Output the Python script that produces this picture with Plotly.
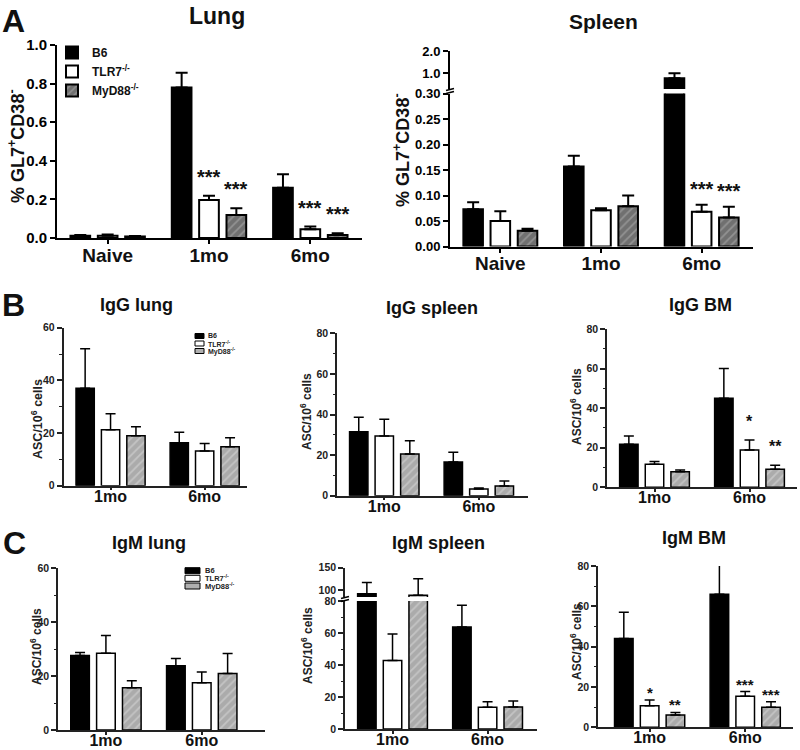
import plotly.graph_objects as go

W, H = 800, 750
FONT = "Liberation Sans, Arial, Helvetica, sans-serif"


def px(x):
    return x / W


def py(y):
    return 1 - y / H


series_names = ["B6", "TLR7<sup>-/-</sup>", "MyD88<sup>-/-</sup>"]

# ---------------- Panel A data ----------------
a_groups = ["Naive", "1mo", "6mo"]

lung_b6 = [0.012, 0.78, 0.26]
lung_b6_err = [0.004, 0.076, 0.07]
lung_tlr7 = [0.012, 0.197, 0.045]
lung_tlr7_err = [0.006, 0.022, 0.014]
lung_myd88 = [0.008, 0.119, 0.016]
lung_myd88_err = [0.002, 0.035, 0.008]
lung_stars_tlr7 = ["", "***", "***"]
lung_stars_myd88 = ["", "***", "***"]

spleen_b6 = [0.073, 0.157, 0.78]
spleen_b6_err = [0.014, 0.021, 0.22]
spleen_tlr7 = [0.05, 0.071, 0.068]
spleen_tlr7_err = [0.019, 0.004, 0.014]
spleen_myd88 = [0.031, 0.079, 0.057]
spleen_myd88_err = [0.004, 0.021, 0.021]
spleen_stars_tlr7 = ["", "", "***"]
spleen_stars_myd88 = ["", "", "***"]

lung_yticks = [0, 0.2, 0.4, 0.6, 0.8, 1.0]
spleen_low_yticks = [0, 0.05, 0.10, 0.15, 0.20, 0.25, 0.30]
spleen_high_yticks = [1.0, 2.0]

# ---------------- Panels B / C data ----------------
bc_groups = ["1mo", "6mo"]

igg_lung_b6 = [37.0, 16.3]
igg_lung_b6_err = [15.0, 4.0]
igg_lung_tlr7 = [21.2, 13.2]
igg_lung_tlr7_err = [6.1, 2.8]
igg_lung_myd88 = [19.0, 14.8]
igg_lung_myd88_err = [3.4, 3.4]

igg_spleen_b6 = [31.5, 16.6]
igg_spleen_b6_err = [7.1, 4.8]
igg_spleen_tlr7 = [29.4, 3.3]
igg_spleen_tlr7_err = [8.2, 0.5]
igg_spleen_myd88 = [20.5, 4.8]
igg_spleen_myd88_err = [6.6, 2.5]

igg_bm_b6 = [21.7, 45.0]
igg_bm_b6_err = [4.2, 15.1]
igg_bm_tlr7 = [11.6, 18.8]
igg_bm_tlr7_err = [1.5, 5.1]
igg_bm_myd88 = [7.9, 9.1]
igg_bm_myd88_err = [0.8, 2.0]
igg_bm_stars_tlr7 = ["", "*"]
igg_bm_stars_myd88 = ["", "**"]

igm_lung_b6 = [27.6, 23.8]
igm_lung_b6_err = [1.2, 2.7]
igm_lung_tlr7 = [28.5, 17.5]
igm_lung_tlr7_err = [6.6, 4.0]
igm_lung_myd88 = [15.7, 21.0]
igm_lung_myd88_err = [2.6, 7.4]

igm_spleen_b6 = [92.0, 63.8]
igm_spleen_b6_err = [25.0, 13.5]
igm_spleen_tlr7 = [42.8, 13.6]
igm_spleen_tlr7_err = [16.6, 3.5]
igm_spleen_myd88 = [89.0, 13.8]
igm_spleen_myd88_err = [36.0, 3.7]

igm_bm_b6 = [44.1, 66.0]
igm_bm_b6_err = [12.9, 14.8]
igm_bm_tlr7 = [10.7, 15.4]
igm_bm_tlr7_err = [2.9, 2.3]
igm_bm_myd88 = [6.1, 9.9]
igm_bm_myd88_err = [1.3, 2.8]
igm_bm_stars_tlr7 = ["*", "***"]
igm_bm_stars_myd88 = ["**", "***"]

ticks_60 = [0, 20, 40, 60]
ticks_80 = [0, 20, 40, 60, 80]
ticks_150_high = [100, 150]

# ---------------- panel layout specs ----------------
panels = [
    dict(kind="A", groups=a_groups,
         means=[lung_b6, lung_tlr7, lung_myd88],
         errs=[lung_b6_err, lung_tlr7_err, lung_myd88_err],
         stars=[None, lung_stars_tlr7, lung_stars_myd88], star_size=20, star_shift=6,
         xdom=(57, 362), xrange=(-0.5, 2.51), legend=True,
         segs=[dict(dom=(45, 238), range=(0, 1.0), ticks=lung_yticks, fmt="{:.1f}")],
         ytick_size=15),
    dict(kind="A", groups=a_groups,
         means=[spleen_b6, spleen_tlr7, spleen_myd88],
         errs=[spleen_b6_err, spleen_tlr7_err, spleen_myd88_err],
         stars=[None, spleen_stars_tlr7, spleen_stars_myd88], star_size=20, star_shift=3,
         xdom=(450, 753), xrange=(-0.5, 2.51), legend=False,
         segs=[dict(dom=(93.5, 246.5), range=(0, 0.30), ticks=spleen_low_yticks, fmt="{:.2f}"),
               dict(dom=(51, 89), range=(0.30, 2.0), ticks=spleen_high_yticks, fmt="{:.1f}")],
         ytick_size=13),
    dict(kind="B", groups=bc_groups,
         means=[igg_lung_b6, igg_lung_tlr7, igg_lung_myd88],
         errs=[igg_lung_b6_err, igg_lung_tlr7_err, igg_lung_myd88_err],
         stars=None, xdom=(63.5, 247), xrange=(-0.5, 1.45), legend=False,
         segs=[dict(dom=(327.7, 485.7), range=(0, 60), ticks=ticks_60, fmt="{:d}", minor=10)],
         ytick_size=10.5),
    dict(kind="B", groups=bc_groups,
         means=[igg_spleen_b6, igg_spleen_tlr7, igg_spleen_myd88],
         errs=[igg_spleen_b6_err, igg_spleen_tlr7_err, igg_spleen_myd88_err],
         stars=None, xdom=(337, 528), xrange=(-0.5, 1.52), legend=False,
         segs=[dict(dom=(333.3, 495.7), range=(0, 80), ticks=ticks_80, fmt="{:d}", minor=10)],
         ytick_size=10.5),
    dict(kind="B", groups=bc_groups,
         means=[igg_bm_b6, igg_bm_tlr7, igg_bm_myd88],
         errs=[igg_bm_b6_err, igg_bm_tlr7_err, igg_bm_myd88_err],
         stars=[None, igg_bm_stars_tlr7, igg_bm_stars_myd88], star_size=16, star_shift=8,
         xdom=(607, 797), xrange=(-0.5, 1.5), legend=False,
         segs=[dict(dom=(329, 487.3), range=(0, 80), ticks=ticks_80, fmt="{:d}", minor=10)],
         ytick_size=10.5),
    dict(kind="B", groups=bc_groups,
         means=[igm_lung_b6, igm_lung_tlr7, igm_lung_myd88],
         errs=[igm_lung_b6_err, igm_lung_tlr7_err, igm_lung_myd88_err],
         stars=None, xdom=(58, 265), xrange=(-0.5, 1.66), legend=False,
         segs=[dict(dom=(568.3, 730), range=(0, 60), ticks=ticks_60, fmt="{:d}", minor=10)],
         ytick_size=10.5),
    dict(kind="B", groups=bc_groups,
         means=[igm_spleen_b6, igm_spleen_tlr7, igm_spleen_myd88],
         errs=[igm_spleen_b6_err, igm_spleen_tlr7_err, igm_spleen_myd88_err],
         stars=None, xdom=(345, 537), xrange=(-0.5, 1.52), legend=False,
         segs=[dict(dom=(601, 729), range=(0, 80), ticks=ticks_80, fmt="{:d}", minor=10),
               dict(dom=(567.5, 597), range=(85, 150), ticks=ticks_150_high, fmt="{:d}")],
         ytick_size=10.5),
    dict(kind="B", groups=bc_groups,
         means=[igm_bm_b6, igm_bm_tlr7, igm_bm_myd88],
         errs=[igm_bm_b6_err, igm_bm_tlr7_err, igm_bm_myd88_err],
         stars=[None, igm_bm_stars_tlr7, igm_bm_stars_myd88], star_size=15, star_shift=-3,
         xdom=(598, 793), xrange=(-0.54, 1.5), legend=False,
         segs=[dict(dom=(566, 727.3), range=(0, 80), ticks=ticks_80, fmt="{:d}", minor=10)],
         ytick_size=10.5),
]

SLOT = 0.27  # slot width of each series inside a group (1 - bargap) / 3

styles = {
    "A": dict(line_w=2.0, axis_w=2.0, err_w=2.0, cap=6, pat_bg="#707070", pat_fg="#b4b4b4",
              xtick_size=19, tick_color="#000", xstandoff=-5, xticklen=4),
    "B": dict(line_w=1.5, axis_w=1.5, err_w=1.5, cap=5, pat_bg="#ababab", pat_fg="#dedede",
              xtick_size=16, tick_color="#222", xstandoff=-8, xticklen=3),
}

fig = go.Figure()
layout = {}
annotations = []
shapes = []

xi = 0
yi = 0
for p in panels:
    st = styles[p["kind"]]
    xi += 1
    xname = "x" if xi == 1 else f"x{xi}"
    xkey = "xaxis" if xi == 1 else f"xaxis{xi}"
    first_y = None
    for si, seg in enumerate(p["segs"]):
        yi += 1
        yname = "y" if yi == 1 else f"y{yi}"
        ykey = "yaxis" if yi == 1 else f"yaxis{yi}"
        if si == 0:
            first_y = yname
        yax = dict(
            domain=[py(seg["dom"][1]), py(seg["dom"][0])],
            range=list(seg["range"]),
            anchor=xname, automargin=False,
            showgrid=False, zeroline=False,
            showline=True, linecolor=st["tick_color"], linewidth=st["axis_w"],
            ticks="outside", ticklen=5, tickwidth=st["axis_w"], tickcolor=st["tick_color"],
            tickvals=seg["ticks"],
            ticktext=[seg["fmt"].format(int(t) if seg["fmt"] == "{:d}" else t) for t in seg["ticks"]],
            tickfont=dict(family=FONT, size=p["ytick_size"], color=st["tick_color"], weight="bold"),
            fixedrange=True,
        )
        if seg.get("minor"):
            yax["minor"] = dict(dtick=seg["minor"], ticks="outside", ticklen=2.5, tickwidth=1,
                                tickcolor=st["tick_color"])
        layout[ykey] = yax

        for s in range(3):
            if s == 0:
                marker = dict(color="#000000", line=dict(color="#000000", width=st["line_w"]))
            elif s == 1:
                marker = dict(color="#ffffff", line=dict(color="#000000", width=st["line_w"]))
            else:
                marker = dict(color=st["pat_bg"], line=dict(color="#000000", width=st["line_w"]),
                              pattern=dict(shape="/", bgcolor=st["pat_bg"], fgcolor=st["pat_fg"],
                                           size=6, solidity=0.3))
            fig.add_trace(go.Bar(
                x=p["groups"], y=p["means"][s], name=series_names[s],
                xaxis=xname, yaxis=yname, marker=marker,
                error_y=dict(type="data", symmetric=False, array=p["errs"][s],
                             arrayminus=[0] * len(p["groups"]), color="#000000",
                             thickness=st["err_w"], width=st["cap"]),
                showlegend=bool(p["legend"] and si == 0),
                legendgroup=series_names[s],
                hoverinfo="skip",
            ))

        # significance stars (drawn on the lower segment only)
        if si == 0 and p.get("stars"):
            for s in range(3):
                lab = p["stars"][s]
                if not lab:
                    continue
                for g, txt in enumerate(lab):
                    if not txt:
                        continue
                    annotations.append(dict(
                        x=g + (s - 1) * SLOT, y=p["means"][s][g] + p["errs"][s][g],
                        xref=xname, yref=yname, text=f"<b>{txt}</b>", showarrow=False,
                        yanchor="bottom", xanchor="center", yshift=p["star_shift"],
                        font=dict(family=FONT, size=p["star_size"], color="#111"),
                    ))

    layout[xkey] = dict(
        domain=[px(p["xdom"][0]), px(p["xdom"][1])],
        range=list(p["xrange"]),
        anchor=first_y, type="category", automargin=False,
        showgrid=False, zeroline=False,
        showline=True, linecolor=st["tick_color"], linewidth=st["axis_w"],
        ticks="outside", ticklen=st["xticklen"], tickwidth=st["axis_w"], tickcolor=st["tick_color"],
        ticklabelstandoff=st["xstandoff"],
        tickfont=dict(family=FONT, size=st["xtick_size"], color="#111", weight="bold"),
        fixedrange=True,
    )


# ---------------- titles, panel letters, axis titles ----------------
def text(x, y, s, size, angle=0, color="#111"):
    annotations.append(dict(x=px(x), y=py(y), xref="paper", yref="paper", text=s,
                            showarrow=False, xanchor="center", yanchor="middle",
                            textangle=angle, font=dict(family=FONT, size=size, color=color)))


text(13, 21, "<b>A</b>", 32)
text(13, 305, "<b>B</b>", 32)
text(14, 543, "<b>C</b>", 32)

text(217, 16, "<b>Lung</b>", 23)
text(603, 22, "<b>Spleen</b>", 21)
text(136, 305, "<b>IgG lung</b>", 18)
text(432, 308, "<b>IgG spleen</b>", 18)
text(700, 305, "<b>IgG BM</b>", 18)
text(149, 543, "<b>IgM lung</b>", 18)
text(438, 543, "<b>IgM spleen</b>", 18)
text(694, 538, "<b>IgM BM</b>", 18)

gl7 = "<b>% GL7<sup>+</sup>CD38<sup>-</sup></b>"
text(16, 146, gl7, 18, angle=-90)
text(402, 150, gl7, 18, angle=-90)

asc = "<b>ASC/10<sup>6</sup> cells</b>"
text(37, 419, asc, 12.5, angle=-90, color="#222")
text(306, 412, asc, 12, angle=-90, color="#222")
text(576, 407, asc, 12, angle=-90, color="#222")
text(36, 647, asc, 12, angle=-90, color="#222")
text(307, 646, asc, 12, angle=-90, color="#222")
text(576, 642, asc, 12, angle=-90, color="#222")

# ---------------- small legends for panels B and C ----------------
swatch_fill = ["#000000", "#ffffff", "#b0b0b0"]


def mini_legend(x0, x1, ys, h, tx, size):
    for k, yc in enumerate(ys):
        shapes.append(dict(type="rect", xref="paper", yref="paper",
                           x0=px(x0), x1=px(x1), y0=py(yc + h / 2), y1=py(yc - h / 2),
                           fillcolor=swatch_fill[k], line=dict(color="#000", width=1)))
        annotations.append(dict(x=px(tx), y=py(yc), xref="paper", yref="paper",
                                text=f"<b>{series_names[k]}</b>", showarrow=False,
                                xanchor="left", yanchor="middle",
                                font=dict(family=FONT, size=size, color="#222")))


mini_legend(195, 204, [336, 343.5, 351], 5, 206, 7)
mini_legend(185, 200, [570.7, 578.3, 586], 6, 203, 7.5)

# ---------------- axis break marks ----------------
for (xa, ya, yb) in [(450, 89.5, 92.5), (345, 597.5, 600.5)]:
    for yy in (ya, yb):
        shapes.append(dict(type="line", xref="paper", yref="paper",
                           x0=px(xa - 4), x1=px(xa + 4), y0=py(yy + 1), y1=py(yy - 1),
                           line=dict(color="#000", width=1.5)))

fig.update_layout(
    width=W, height=H,
    margin=dict(l=0, r=0, t=0, b=0, autoexpand=False),
    paper_bgcolor="white", plot_bgcolor="white",
    barmode="group", bargap=0.19, bargroupgap=0.28,
    font=dict(family=FONT, color="#111"),
    showlegend=True,
    legend=dict(x=px(52), y=py(38), xanchor="left", yanchor="top",
                bgcolor="rgba(0,0,0,0)", tracegroupgap=0, itemclick=False,
                font=dict(family=FONT, size=12, color="#111", weight="bold")),
    annotations=annotations,
    shapes=shapes,
    **layout,
)

fig.write_html(
    "out.html",
    config={"displayModeBar": False},
    post_script="document.body.style.margin='0';document.body.style.overflow='hidden';",
)
